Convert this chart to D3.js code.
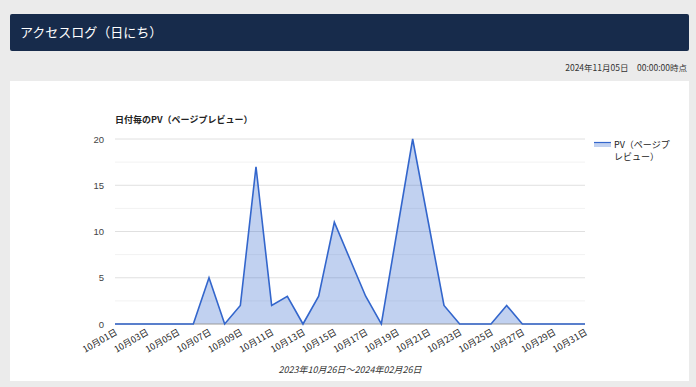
<!DOCTYPE html>
<html>
<head>
<meta charset="utf-8">
<script src="https://cdn.jsdelivr.net/npm/d3@7"></script>
<style>
  body { margin: 0; background: #ebebeb; font-family: "Noto Sans CJK JP", "Noto Sans", sans-serif; }
  svg { display: block; }
</style>
</head>
<body>
<svg id="chart" width="696" height="387"></svg>
<script>
// Daily page views for October
const days = d3.range(1, 32).map(d => `10月${String(d).padStart(2, "0")}日`);
const pv = [0, 0, 0, 0, 0, 0, 5, 0, 2, 17, 2, 3, 0, 3, 11, 7, 3, 0, 10, 20, 11, 2, 0, 0, 0, 2, 0, 0, 0, 0, 0];
const yTicks = [0, 5, 10, 15, 20];
const yMinor = [2.5, 7.5, 12.5, 17.5];

const headerTitle = "アクセスログ（日にち）";
const stampText = "2024年11月05日　00:00:00時点";
const chartTitle = "日付毎のPV（ページプレビュー）";
const legendLines = ["PV（ページプ", "レビュー）"];
const rangeText = "2023年10月26日〜2024年02月26日";

let svg = d3.select("#chart");
let font = "'Noto Sans CJK JP', sans-serif";

// Page background pieces
svg.append("rect").attr("x", 0).attr("y", 0).attr("width", 696).attr("height", 387).attr("fill", "#ebebeb");
svg.append("rect")
  .attr("x", 10).attr("y", 14).attr("width", 679).attr("height", 37)
  .attr("rx", 2).attr("fill", "#172b4b");
svg.append("text")
  .attr("x", 20).attr("y", 37)
  .attr("fill", "#fff").attr("font-size", 13).attr("font-family", font)
  .text(headerTitle);
svg.append("text")
  .attr("x", 687).attr("y", 71).attr("text-anchor", "end")
  .attr("fill", "#333").attr("font-size", 8.5).attr("font-family", font)
  .text(stampText);
svg.append("rect").attr("x", 10).attr("y", 81).attr("width", 679).attr("height", 300).attr("fill", "#fff");

// Scales
let x = d3.scalePoint().domain(days).range([115, 585]);
let y = d3.scaleLinear().domain([0, 20]).range([324, 139]);

let graph = svg.append("g");

// Grid lines
graph.append("g").selectAll("line")
  .data(yMinor)
  .enter().append("line")
    .attr("x1", 115).attr("x2", 585)
    .attr("y1", d => y(d)).attr("y2", d => y(d))
    .attr("stroke", "#f2f2f2");
graph.append("g").selectAll("line")
  .data(yTicks.filter(d => d > 0))
  .enter().append("line")
    .attr("x1", 115).attr("x2", 585)
    .attr("y1", d => y(d)).attr("y2", d => y(d))
    .attr("stroke", "#e0e0e0");

// Y axis labels
graph.append("g").selectAll("text")
  .data(yTicks)
  .enter().append("text")
    .attr("x", 104).attr("y", d => y(d) + 3.5)
    .attr("text-anchor", "end")
    .attr("font-size", 9.5).attr("fill", "#444").attr("font-family", "Arial, sans-serif")
    .text(d => d);

// Area + line
let area = d3.area()
  .x((d, i) => x(days[i]))
  .y0(y(0))
  .y1(d => y(d));
let line = d3.line()
  .x((d, i) => x(days[i]))
  .y(d => y(d));

graph.append("path").datum(pv).attr("d", area).attr("fill", "#3366cc").attr("fill-opacity", 0.3);
graph.append("line")
  .attr("x1", 115).attr("x2", 585).attr("y1", y(0)).attr("y2", y(0))
  .attr("stroke", "#999").attr("stroke-width", 1.2);
graph.append("path").datum(pv).attr("d", line)
  .attr("fill", "none").attr("stroke", "#3366cc").attr("stroke-width", 1.6)
  .attr("stroke-linejoin", "miter");

// X axis labels, every other day
graph.append("g").selectAll("text")
  .data(days.filter((d, i) => i % 2 == 0))
  .enter().append("text")
    .attr("transform", d => `translate(${x(d) + 3},${y(0) + 10}) rotate(-30)`)
    .attr("text-anchor", "end")
    .attr("font-size", 9).attr("fill", "#222").attr("font-family", font)
    .text(d => d);

// Chart title
svg.append("text")
  .attr("x", 115).attr("y", 123)
  .attr("font-size", 9).attr("font-weight", "bold").attr("fill", "#222").attr("font-family", font)
  .text(chartTitle);

// Legend
svg.append("rect").attr("x", 594).attr("y", 142).attr("width", 17).attr("height", 5)
  .attr("fill", "#3366cc").attr("fill-opacity", 0.3);
svg.append("line").attr("x1", 594).attr("x2", 611).attr("y1", 142.5).attr("y2", 142.5)
  .attr("stroke", "#3366cc").attr("stroke-width", 1.2);
svg.append("g").selectAll("text")
  .data(legendLines)
  .enter().append("text")
    .attr("x", 614).attr("y", (d, i) => 148 + i * 12)
    .attr("font-size", 9).attr("fill", "#222").attr("font-family", font)
    .text(d => d);

// Range caption
svg.append("text")
  .attr("x", 350).attr("y", 373).attr("text-anchor", "middle")
  .attr("font-size", 9).attr("font-style", "italic").attr("fill", "#333").attr("font-family", font)
  .text(rangeText);
</script>
</body>
</html>
